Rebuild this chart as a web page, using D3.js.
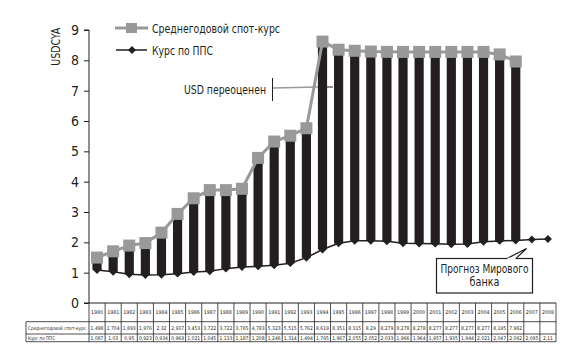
<!DOCTYPE html>
<html><head><meta charset="utf-8">
<script src="https://cdn.jsdelivr.net/npm/d3@7"></script>
<style>
body{margin:0;background:#fff;}
svg{display:block;}
text{font-family:"DejaVu Sans Condensed","Liberation Sans Narrow","Roboto",sans-serif;}
</style></head>
<body><svg id="c" width="570" height="357"></svg>
<script>
const years = [1980,1981,1982,1983,1984,1985,1986,1987,1988,1989,1990,1991,1992,1993,1994,1995,1996,1997,1998,1999,2000,2001,2002,2003,2004,2005,2006,2007,2008];
const spot = [1.498,1.704,1.893,1.976,2.32,2.937,3.453,3.722,3.722,3.765,4.783,5.323,5.515,5.762,8.619,8.351,8.315,8.29,8.279,8.278,8.278,8.277,8.277,8.277,8.277,8.195,7.962,null,null];
const ppp = [1.087,1.03,0.95,0.923,0.934,0.968,1.021,1.045,1.133,1.187,1.208,1.246,1.314,1.494,1.765,1.967,2.055,2.052,2.033,1.966,1.964,1.957,1.935,1.944,2.021,2.047,2.062,2.095,2.11];
const yTicks = [0,1,2,3,4,5,6,7,8,9];
const seriesNames = ["Среднегодовой спот-курс","Курс по ППС"];
const axisTitle = "USDCYA";
const noteOver = "USD переоценен";
const noteWB = ["Прогноз Мирового","банка"];

const svg = d3.select("#c");
const GRAY = "#999999", DARK = "#231f20";
const x = d3.scaleBand().domain(years).range([89, 556]).padding(0);
const y = d3.scaleLinear().domain([0, 9]).range([303, 30]);
const bw = x.bandwidth() * 0.57;
const cx = d => x(d) + x.bandwidth() / 2;
const data = years.map((yr, i) => ({yr, s: spot[i], p: ppp[i]}));

function txt(g, t, px, py, size, len, anchor) {
  const e = g.append("text").attr("x", px).attr("y", py).attr("dy", "0.35em")
    .attr("font-size", size).attr("fill", DARK).attr("text-anchor", anchor || "start").text(t);
  if (len) e.attr("textLength", len).attr("lengthAdjust", "spacingAndGlyphs");
  return e;
}

// bars
svg.append("g").selectAll("rect").data(data.filter(d => d.s != null)).join("rect")
  .attr("x", d => cx(d.yr) - bw / 2).attr("width", bw)
  .attr("y", d => y(d.s)).attr("height", d => y(d.p) - y(d.s))
  .attr("fill", DARK);

// y axis
const ya = svg.append("g").attr("transform", "translate(89,0)")
  .call(d3.axisLeft(y).tickValues(yTicks).tickSize(5).tickPadding(5).tickFormat(d3.format("d")));
ya.select(".domain").attr("stroke", DARK).attr("stroke-width", 1).attr("d", `M-5,${y(9)}H0V${y(0)}`);
ya.selectAll(".tick line").attr("stroke", DARK);
ya.selectAll(".tick text").attr("font-size", 14).attr("fill", DARK)
  .style("font-family", '"DejaVu Sans Condensed",sans-serif');

// x axis baseline
svg.append("line").attr("x1", 84).attr("x2", 556).attr("y1", y(0)).attr("y2", y(0)).attr("stroke", DARK);

svg.append("text").attr("transform", `translate(60,${y(8.45)}) rotate(-90)`).attr("text-anchor", "middle")
  .attr("font-size", 13).attr("fill", DARK).attr("textLength", 38).attr("lengthAdjust", "spacingAndGlyphs").text(axisTitle);

// ppp line
const lineP = d3.line().x(d => cx(d.yr)).y(d => y(d.p));
svg.append("path").datum(data).attr("d", lineP).attr("fill", "none").attr("stroke", DARK).attr("stroke-width", 1.5);
// spot line
const sd = data.filter(d => d.s != null);
const lineS = d3.line().x(d => cx(d.yr)).y(d => y(d.s));
svg.append("path").datum(sd).attr("d", lineS).attr("fill", "none").attr("stroke", GRAY).attr("stroke-width", 3);

const diamond = d3.symbol().type(d3.symbolDiamond2).size(40);
svg.append("g").selectAll("path").data(data).join("path")
  .attr("transform", d => `translate(${cx(d.yr)},${y(d.p)})`).attr("d", diamond).attr("fill", DARK);
svg.append("g").selectAll("rect").data(sd).join("rect")
  .attr("x", d => cx(d.yr) - 6).attr("y", d => y(d.s) - 6).attr("width", 12).attr("height", 12).attr("fill", GRAY);

// legend
const lg = svg.append("g");
lg.append("line").attr("x1", 115).attr("x2", 148).attr("y1", 28).attr("y2", 28).attr("stroke", GRAY).attr("stroke-width", 3);
lg.append("rect").attr("x", 126).attr("y", 23).attr("width", 11).attr("height", 10).attr("fill", GRAY);
txt(lg, seriesNames[0], 152, 28, 13, 128);
lg.append("line").attr("x1", 116).attr("x2", 147).attr("y1", 50).attr("y2", 50).attr("stroke", DARK).attr("stroke-width", 1.5);
lg.append("path").attr("transform", "translate(132,50)").attr("d", diamond).attr("fill", DARK);
txt(lg, seriesNames[1], 152, 50, 13, 61);

// annotation USD overvalued
const an = svg.append("g");
txt(an, noteOver, 184, 89, 13, 82);
an.append("line").attr("x1", 272.5).attr("x2", 272.5).attr("y1", 78).attr("y2", 101).attr("stroke", DARK).attr("stroke-width", 1);
an.append("line").attr("x1", 273).attr("x2", cx(1994) - bw / 2).attr("y1", 88).attr("y2", 87).attr("stroke", GRAY).attr("stroke-width", 1.5);
an.append("line").attr("x1", cx(1994)).attr("x2", 333).attr("y1", 87).attr("y2", 87).attr("stroke", DARK).attr("stroke-width", 1);

// World bank callout
const cb = svg.append("g");
cb.append("rect").attr("x", 436.5).attr("y", 258.5).attr("width", 96).attr("height", 34.5)
  .attr("fill", "white").attr("stroke", DARK).attr("stroke-width", 1.2);
cb.append("polygon").attr("points", "507,258.5 526.5,248.5 516,258.5")
  .attr("fill", "white").attr("stroke", DARK).attr("stroke-width", 1.2);
cb.append("line").attr("x1", 507.5).attr("x2", 515.5).attr("y1", 258.5).attr("y2", 258.5).attr("stroke", "white").attr("stroke-width", 1.6);
txt(cb, noteWB[0], 484.5, 269, 11.5, 88, "middle");
txt(cb, noteWB[1], 484.5, 281.5, 11.5, 30, "middle");

// table
const tb = svg.append("g");
const rowY = [303, 321.7, 334, 341.7];
const fmt = v => v == null ? "" : String(v).replace(".", ",");
[1, 2, 3].forEach(i => tb.append("line").attr("x1", 26).attr("x2", 556).attr("y1", rowY[i]).attr("y2", rowY[i]).attr("stroke", DARK).attr("stroke-width", 0.8));
tb.append("line").attr("x1", 26).attr("x2", 26).attr("y1", rowY[1]).attr("y2", rowY[3]).attr("stroke", DARK).attr("stroke-width", 0.8);
years.forEach(yr => {
  tb.append("line").attr("x1", x(yr)).attr("x2", x(yr)).attr("y1", rowY[0]).attr("y2", rowY[3]).attr("stroke", DARK).attr("stroke-width", 0.8);
});
tb.append("line").attr("x1", 556).attr("x2", 556).attr("y1", rowY[0]).attr("y2", rowY[3]).attr("stroke", DARK).attr("stroke-width", 0.8);
const tfs = 5;
data.forEach(d => {
  txt(tb, d.yr, cx(d.yr), 312.7, tfs, 12, "middle");
  if (d.s != null) txt(tb, fmt(d.s), cx(d.yr), 328, tfs, null, "middle");
  txt(tb, fmt(d.p), cx(d.yr), 338, tfs, null, "middle");
});
txt(tb, seriesNames[0], 28, 328, tfs, 58);
txt(tb, seriesNames[1], 28, 338, tfs, 27);
</script></body></html>
